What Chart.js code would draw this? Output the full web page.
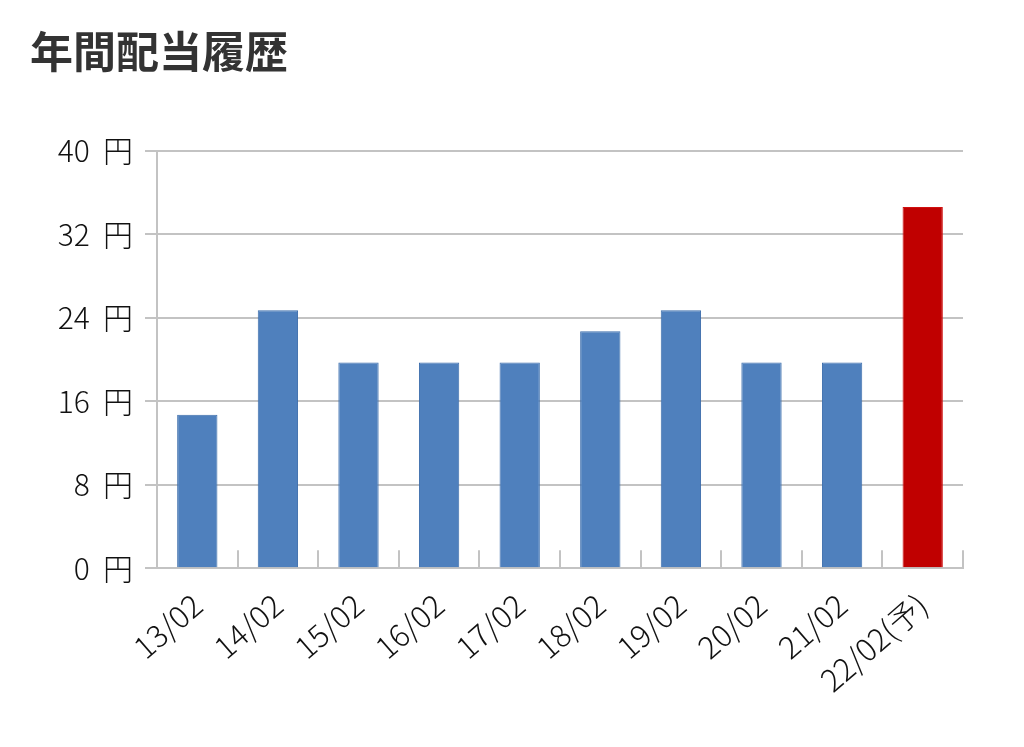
<!DOCTYPE html>
<html>
<head>
<meta charset="utf-8">
<script src="https://cdn.jsdelivr.net/npm/chart.js@4/dist/chart.umd.min.js"></script>
<style>
  html, body { margin: 0; padding: 0; background: #fff; }
  #wrap { width: 1024px; height: 747px; }
</style>
</head>
<body>
<div id="wrap"><canvas id="dividendChart"></canvas></div>
<script>
// data
const years = ['13/02', '14/02', '15/02', '16/02', '17/02', '18/02', '19/02', '20/02', '21/02', '22/02(予)'];
const dividends = [14.7, 24.7, 19.7, 19.7, 19.7, 22.7, 24.7, 19.7, 19.7, 34.6];
const isForecast = [false, false, false, false, false, false, false, false, false, true];
const yTicks = [0, 8, 16, 24, 32, 40];

const FONT = '"Noto Sans CJK JP", "Noto Sans", sans-serif';
const GRID = '#c3c3c3';

// short upward ticks between categories, like the original
const innerTicks = {
    id: 'innerTicks',
    afterDatasetsDraw(chart) {
        const x = chart.scales.x;
        const area = chart.chartArea;
        const ctx = chart.ctx;
        const step = x.getPixelForValue(1) - x.getPixelForValue(0);
        ctx.save();
        ctx.strokeStyle = GRID;
        ctx.lineWidth = 2;
        for (let i = 1; i <= years.length; i++) {
            const px = Math.round(x.getPixelForValue(i) - step / 2);
            ctx.beginPath();
            ctx.moveTo(px, area.bottom);
            ctx.lineTo(px, area.bottom - 18);
            ctx.stroke();
        }
        ctx.restore();
    }
};

const ctx = document.getElementById('dividendChart').getContext('2d');
const myChart = new Chart(ctx, {
    type: 'bar',
    data: {
        labels: years,
        datasets: [{
            label: '年間配当',
            data: dividends,
            backgroundColor: isForecast.map(f => f ? '#c00000' : '#4f80bd'),
            borderColor: isForecast.map(f => f ? '#d01010' : '#3d6eac'),
            borderWidth: 1,
            barPercentage: 0.5,
            categoryPercentage: 1.0
        }]
    },
    options: {
        responsive: true,
        maintainAspectRatio: false,
        animation: false,
        layout: { padding: { left: 30, right: 61, top: 26, bottom: 38 } },
        plugins: {
            legend: { display: false },
            tooltip: { enabled: false },
            title: {
                display: true,
                text: '年間配当履歴',
                align: 'start',
                color: '#333',
                font: { family: FONT, size: 43, weight: 'bold' },
                padding: { top: 0, bottom: 73 }
            }
        },
        scales: {
            x: {
                grid: { display: false },
                border: { color: GRID, width: 2 },
                ticks: {
                    color: '#111',
                    font: { family: FONT, size: 31, weight: 300 },
                    minRotation: 41,
                    maxRotation: 41,
                    padding: 10
                }
            },
            y: {
                min: 0,
                max: 40,
                afterFit: scale => { scale.width = 127; },
                afterBuildTicks: scale => { scale.ticks = yTicks.map(v => ({ value: v })); },
                grid: { color: GRID, lineWidth: 2, tickLength: 12 },
                border: { color: GRID, width: 2 },
                ticks: {
                    color: '#111',
                    font: { family: FONT, size: 30, weight: 300 },
                    padding: 12,
                    callback: v => v + '  円'
                }
            }
        }
    },
    plugins: [innerTicks]
});
</script>
</body>
</html>
